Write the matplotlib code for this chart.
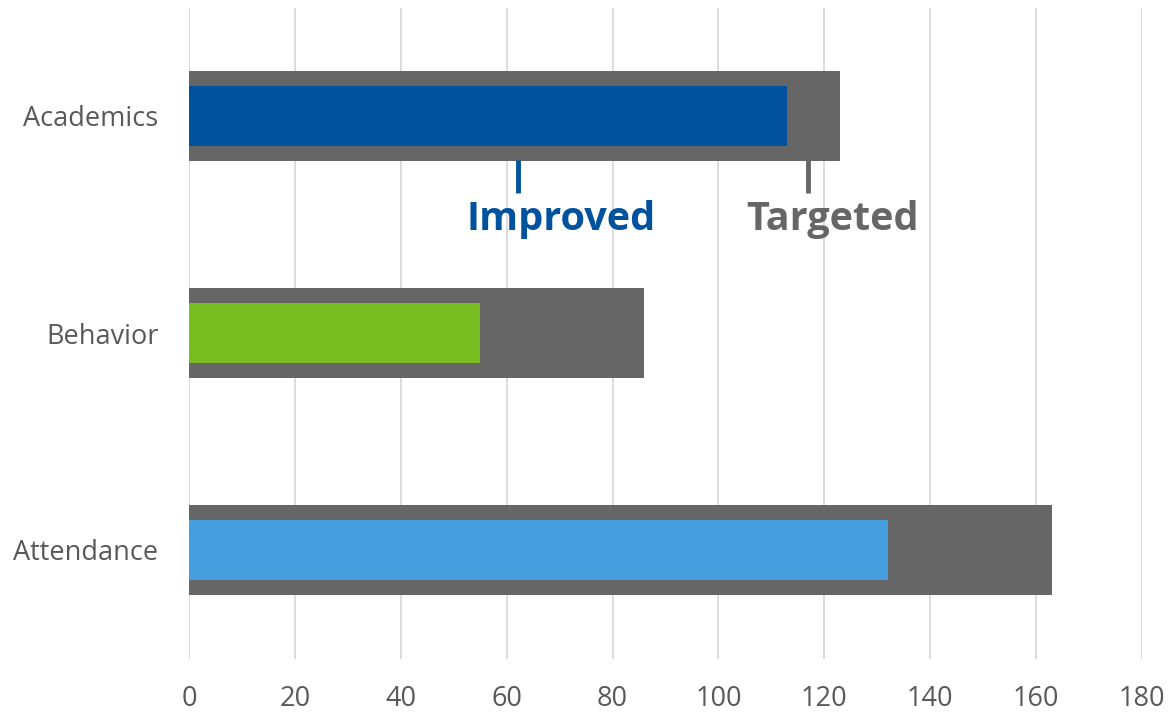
import matplotlib
matplotlib.use("Agg")
import matplotlib.pyplot as plt

categories = ["Academics", "Behavior", "Attendance"]
targeted = [123, 86, 163]
improved = [113, 55, 132]
improved_colors = ["#00529E", "#78BE20", "#459FDE"]
xticks = [0, 20, 40, 60, 80, 100, 120, 140, 160, 180]

plt.rcParams['font.family'] = ['Open Sans', 'DejaVu Sans']
fig = plt.figure(figsize=(11.68, 7.15), dpi=100)
ax = fig.add_axes([189/1168, 1-658.5/715, (1142-189)/1168, (658.5-7.5)/715])

ypos = list(range(len(categories)))
ax.barh(ypos, targeted, height=0.415, color="#666666", zorder=2)
ax.barh(ypos, improved, height=0.276, color=improved_colors, zorder=3)

ax.set_xlim(0, 180)
ax.set_ylim(len(categories) - 0.5, -0.5)
ax.set_xticks(xticks)
ax.set_yticks(ypos)
ax.set_yticklabels(categories)
ax.tick_params(axis='both', length=0, labelsize=19.5, labelcolor="#595959")
ax.tick_params(axis='x', pad=19)
ax.tick_params(axis='y', pad=22)
ax.grid(axis='x', color="#D9D9D9", linewidth=1.3, zorder=0)
ax.set_axisbelow(True)
for s in ax.spines.values():
    s.set_visible(False)

# annotations
ax.plot([62.1, 62.1], [0.203, 0.355], color="#00529E", linewidth=3.5, zorder=4, solid_capstyle='butt')
ax.plot([116.9, 116.9], [0.203, 0.355], color="#666666", linewidth=3.5, zorder=4, solid_capstyle='butt')
ax.text(70.2, 0.475, "Improved", color="#00529E", fontsize=28.5, fontweight='bold', ha='center', va='center')
ax.text(121.6, 0.475, "Targeted", color="#666666", fontsize=28.5, fontweight='bold', ha='center', va='center')

fig.savefig("out.png", dpi=100)
